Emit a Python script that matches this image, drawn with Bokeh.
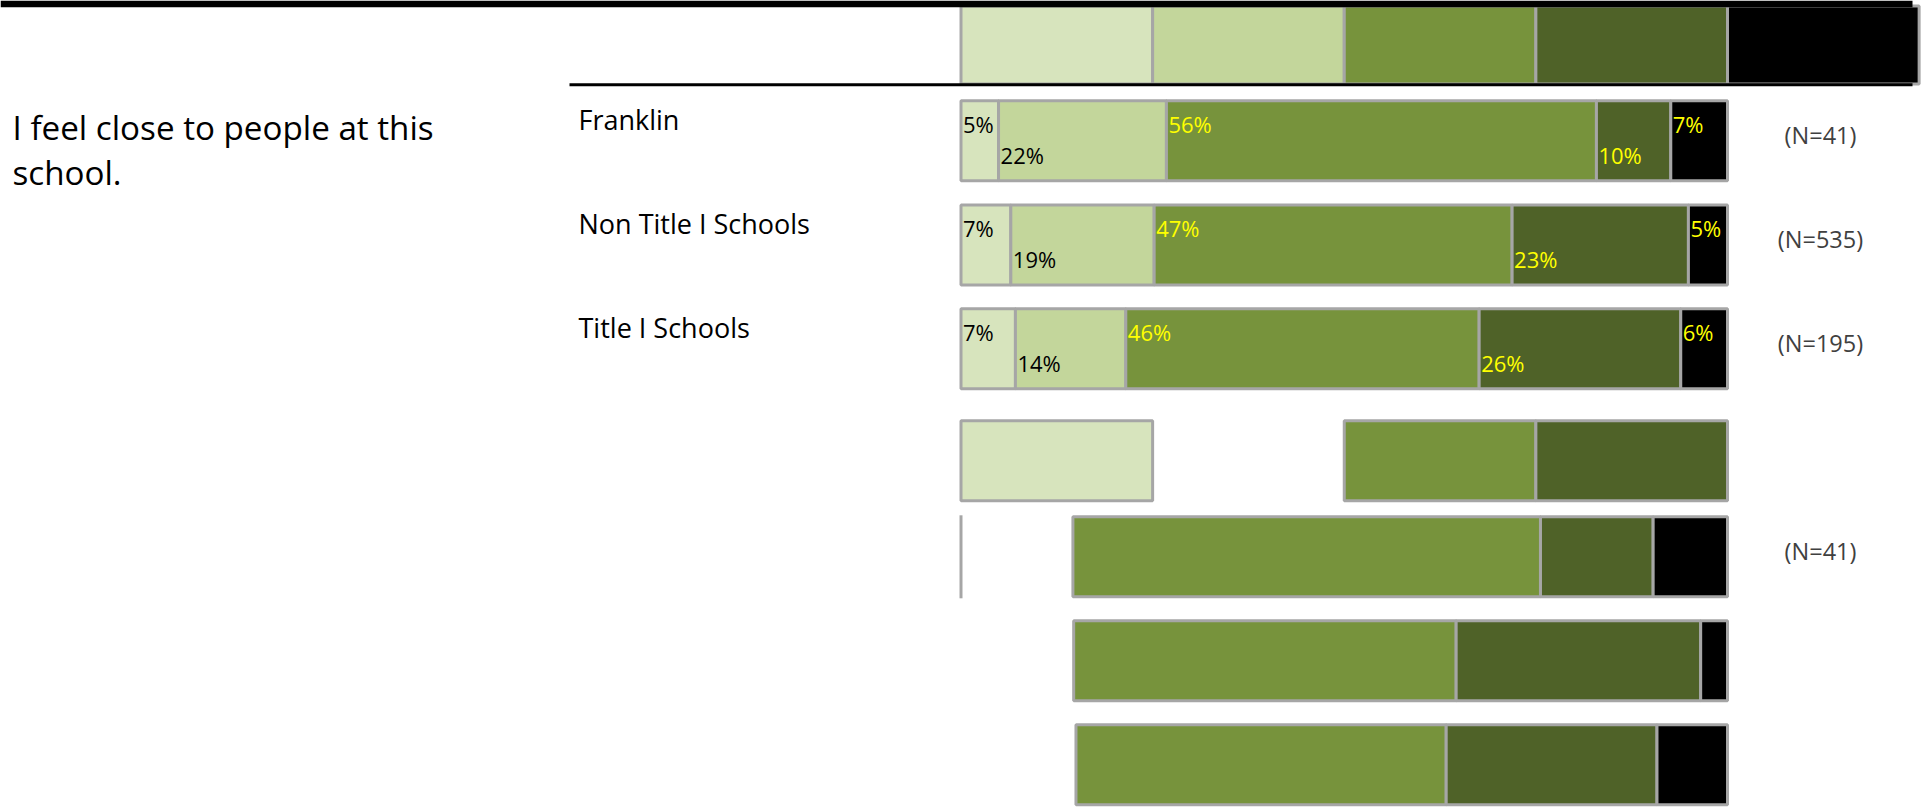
from bokeh.plotting import figure
from bokeh.models import Range1d
from bokeh.core.properties import value
from bokeh.embed import file_html
from bokeh.resources import INLINE

# ------------------------------------------------------------------ data
question_lines = ["I feel close to people at this", "school."]
groups = ["Franklin", "Non Title I Schools", "Title I Schools"]
group_n = ["(N=41)", "(N=535)", "(N=195)"]

franklin = [4.9, 21.9, 56.1, 9.7, 7.4]
non_title_i = [6.5, 18.7, 46.7, 23.0, 5.1]
title_i = [7.1, 14.4, 46.1, 26.3, 6.1]
franklin_labels = ["5%", "22%", "56%", "10%", "7%"]
non_title_i_labels = ["7%", "19%", "47%", "23%", "5%"]
title_i_labels = ["7%", "14%", "46%", "26%", "6%"]

key_slots = [0, 1, 2, 3, 4]        # header key boxes (one per response level)
key_row_slots = [0, 2, 3]          # partial key row below the groups

lower_offset = [14.6, 14.7, 15.0]  # blank space before the lower bars
lower_agree = [61.0, 49.9, 48.3]
lower_strong = [14.7, 31.9, 27.5]
lower_other = [9.7, 3.5, 9.2]
lower_n = ["(N=41)", "", ""]

# ------------------------------------------------------------------ style / layout
COLORS = ["#D7E4BD", "#C3D69B", "#77933C", "#4F6228", "#000000"]
LABEL_COLORS = ["#000000", "#000000", "#FFFF00", "#FFFF00", "#FFFF00"]
EDGE = "#A6A6A6"
FONT = value("Open Sans")

W, H = 1929, 809
BAR_X0_PX = 960.5          # pixel position of 0 %
PX_PER_PCT = 7.665         # pixels per percentage point
KEY_W = 25                 # width of a key box in % units

ROW_Y = [140.3, 244.4, 348.3]
BAR_H = 80
KEY_Y, KEY_H = 44.5, 78
KEYROW_Y = 460.3
LOWER_Y = [556.3, 660.3, 764.3]

p = figure(width=W, height=H,
           x_range=Range1d(-BAR_X0_PX / PX_PER_PCT, (W - BAR_X0_PX) / PX_PER_PCT),
           y_range=Range1d(H, 0),
           output_backend="svg", toolbar_location=None, min_border=0,
           outline_line_color=None, background_fill_color="white",
           border_fill_color="white")
p.extra_x_ranges = {"px": Range1d(0, W)}
p.axis.visible = False
p.xgrid.visible = False
p.ygrid.visible = False

# header key boxes
p.hbar(y=[KEY_Y] * len(key_slots), height=KEY_H,
       left=[s * KEY_W for s in key_slots], right=[(s + 1) * KEY_W for s in key_slots],
       fill_color=[COLORS[s] for s in key_slots], line_color=EDGE, line_width=3)

# header rules
p.segment(x0=[0], y0=[3.35], x1=[1912], y1=[3.35], line_color="black",
          line_width=6.7, x_range_name="px")
p.segment(x0=[569], y0=[84.2], x1=[1912], y1=[84.2], line_color="black",
          line_width=3, x_range_name="px")

# stacked bars for the three groups
series = [franklin, non_title_i, title_i]
labels = [franklin_labels, non_title_i_labels, title_i_labels]
for yc, vals, labs in zip(ROW_Y, series, labels):
    lefts, rights = [], []
    acc = 0.0
    for v in vals:
        lefts.append(acc)
        acc += v
        rights.append(acc)
    p.hbar(y=[yc] * len(vals), height=BAR_H, left=lefts, right=rights,
           fill_color=COLORS[:len(vals)], line_color=EDGE, line_width=3)
    ys = [yc - 17 if i % 2 == 0 else yc + 14.5 for i in range(len(vals))]
    p.text(x=lefts, y=ys, text=labs, x_offset=2, text_baseline="middle",
           text_align="left", text_font=FONT, text_font_size="22px",
           text_color=LABEL_COLORS[:len(vals)])

# partial key row
p.hbar(y=[KEYROW_Y] * len(key_row_slots), height=BAR_H,
       left=[s * KEY_W for s in key_row_slots],
       right=[(s + 1) * KEY_W for s in key_row_slots],
       fill_color=[COLORS[s] for s in key_row_slots], line_color=EDGE, line_width=3)

# lower bars
p.segment(x0=[0], y0=[LOWER_Y[0] - 41.5], x1=[0], y1=[LOWER_Y[0] + 41.5],
          line_color=EDGE, line_width=3)
for yc, off, a, s, o in zip(LOWER_Y, lower_offset, lower_agree, lower_strong, lower_other):
    l = [off, off + a, off + a + s]
    r = [off + a, off + a + s, off + a + s + o]
    p.hbar(y=[yc] * 3, height=BAR_H, left=l, right=r,
           fill_color=COLORS[2:], line_color=EDGE, line_width=3)

# texts
p.text(x=[12, 12], y=[127, 171.5], text=question_lines, text_baseline="middle",
       text_align="left", text_font=FONT, text_font_size="33.2px", text_color="black",
       x_range_name="px")
p.text(x=[578] * 3, y=[y - 21 for y in ROW_Y], text=groups, text_baseline="middle",
       text_align="left", text_font=FONT, text_font_size="27px", text_color="black",
       x_range_name="px")
p.text(x=[1820] * 3, y=[y - 5.5 for y in ROW_Y], text=group_n, text_baseline="middle",
       text_align="center", text_font=FONT, text_font_size="23.5px", text_color="#404040",
       x_range_name="px")
p.text(x=[1820] * 3, y=[y - 5.5 for y in LOWER_Y], text=lower_n, text_baseline="middle",
       text_align="center", text_font=FONT, text_font_size="23.5px", text_color="#404040",
       x_range_name="px")

open("out.html", "w").write(file_html(p, INLINE))
